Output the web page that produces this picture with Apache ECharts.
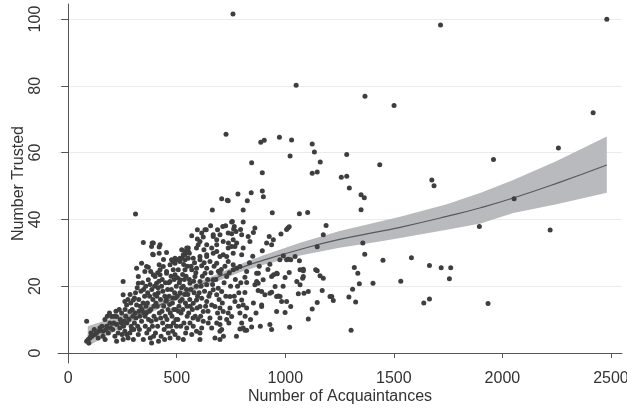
<!DOCTYPE html>
<html>
<head>
<meta charset="utf-8">
<script src="https://cdn.jsdelivr.net/npm/echarts@6/dist/echarts.min.js"></script>
<style>
  html, body { margin: 0; padding: 0; background: #fff; }
  #main { width: 627px; height: 408px; }
</style>
</head>
<body>
<div id="main"></div>
<script>
// tick labels
var xTicks = [0, 500, 1000, 1500, 2000, 2500];
var yTicks = [0, 20, 40, 60, 80, 100];

// fitted curve and its confidence band
var fitX  = [90, 200, 300, 423, 500, 607, 791, 900, 1068, 1250, 1436, 1529, 1744, 1900, 2050, 2250, 2481];
var fitY  = [5.0, 8.2, 11.2, 14.4, 16.8, 20.3, 25.4, 27.8, 31.0, 34.0, 36.4, 37.6, 40.9, 43.5, 46.4, 50.8, 56.3];
var fitLo = [2.0, 6.0, 9.6, 13.4, 15.9, 19.3, 24.2, 26.4, 29.2, 31.5, 33.4, 34.4, 36.9, 38.8, 41.9, 44.5, 48.0];
var fitHi = [8.0, 10.3, 12.8, 15.5, 17.8, 21.4, 26.6, 29.3, 33.0, 36.5, 39.4, 40.8, 44.5, 48.0, 51.8, 57.5, 64.8];

// [acquaintances, trusted]
var points = [
  [85,9.5],[85,3.5],[92,4],[100,4.5],[95,3],[110,5],[123,5.5],[138,4.5],[146,7.5],[120,7],[130,6],[140,6.5],[105,6],
  [161,6.5],[177,8],[192,9],[169,10],[200,10.9],[155,8],[185,6],[170,4],[195,7.5],[160,5],[180,11],[190,12],[175,7],
  [223,3.5],[223,8.5],[238,7.5],[223,10.9],[246,12],[210,9],[230,6],[215,5],[240,10],[205,7],[235,13],[245,9],[220,12.5],[212,11],[248,5.5],
  [253,4],[276,4.5],[284,6],[261,6.5],[253,17.4],[261,15.4],[269,14.4],[284,12.4],[253,21.4],[270,9],[290,8],[265,11],[280,10],[295,13],[258,9.5],[275,16],[288,15],[298,11],[262,13],[292,7],[270,5.5],[285,17.5],[255,8],
  [300,4],[323,5.5],[346,4],[300,15.9],[315,14.4],[307,12],[323,20.9],[315,25.4],[323,22.9],[338,26.9],[310,41.6],[305,9],[320,8],[330,11],[340,13],[310,18],[325,16],[335,18.5],[345,15],[312,10.5],[328,7],[338,9.5],[348,12],[302,7],[318,19.5],[342,21],[332,14],[347,19],[305,16.5],[327,12.5],
  [384,3],[353,24.4],[369,21.9],[369,25.7],[392,23.4],[380,24.4],[392,32.9],[387,32.9],[389,29.6],[384,31.9],[392,29.4],[361,25.9],[346,33.1],[355,8],[360,12],[365,15],[370,10],[375,17],[380,13],[385,19],[390,16],[395,11],[398,20],[352,17],[357,20],[362,6],[372,7],[378,4.5],[388,8],[395,14],[358,14],[366,18],[374,12.5],[383,9.5],[393,5],[399,17.5],[354,11],[377,20.5],
  [407,20.9],[400,22.9],[423,23.4],[423,24.9],[438,25.9],[419,29.9],[419,31.7],[423,32.4],[419,26.4],[405,10],[410,14],[415,18],[420,12],[425,16],[430,20],[435,9],[440,14],[445,17],[448,21],[402,6],[412,8],[428,5],[442,7],[404,15],[414,19.5],[432,12.5],[447,11],[408,17],[418,21.5],[426,10.5],[436,18.5],[444,4],[450,15.5],[416,3.5],[433,22],[439,28],[412,24],
  [453,30.1],[453,23.9],[469,26.4],[492,26.9],[484,24.9],[499,27.9],[492,28.4],[484,27.4],[476,27.9],[469,21.4],[492,23.4],[453,24.4],[492,5.5],[469,4.5],[461,6],[455,10],[460,13],[465,17],[470,12],[475,19],[480,15],[485,9],[490,18],[495,13],[498,20],[458,19],[463,21],[472,8],[478,11],[483,16.5],[488,22],[496,10],[452,16],[467,14.5],[474,23],[486,13],[494,16.5],[457,8],[481,6.5],[499,8],
  [507,4.5],[530,4],[546,7.5],[515,28.4],[538,29.4],[523,30.9],[538,30.4],[523,28.4],[507,27.9],[538,27.9],[515,27.4],[530,29.4],[507,24.9],[538,24.9],[515,21.9],[546,31.4],[505,10],[510,14],[515,18],[520,12],[525,16],[530,20],[535,22],[540,15],[545,19],[548,11],[502,17],[512,21],[518,8],[528,13],[533,9],[543,23],[508,12.5],[522,19.5],[537,17.5],[547,14],[503,22.5],[527,23.5],[541,6],[516,15.5],[549,26],[532,26.5],
  [553,30.4],[553,31.4],[558,29.9],[553,28.4],[569,35.1],[595,36.9],[595,34.1],[599,32.4],[576,28.4],[561,20.9],[584,22.9],[569,24.9],[591,25.4],[576,14.9],[591,15.9],[591,6.5],[576,8],[561,9],[569,5.5],[555,12],[560,16],[565,19],[572,13],[580,18],[585,11],[590,20],[596,17],[558,22],[566,26],[582,27],[588,24],[598,10],[562,14],[578,21.5],[594,13.5],[551,17.5],[575,10.5],[591,31.4],
  [607,33.4],[622,34.7],[607,28.9],[625,30.9],[607,27.9],[638,29.4],[638,32.4],[630,23.9],[638,20.4],[607,21.4],[615,26.1],[638,25.4],[638,15.4],[607,13.9],[622,12.4],[615,16.4],[622,9.5],[615,7.5],[607,6],[607,4],[645,9],[638,28.9],[603,18],[612,20],[618,23],[628,18.5],[633,14],[642,22],[648,17],[610,11],[626,27],[644,12.5],[636,36.9],[630,36.9],[615,35.9],
  [653,17.9],[668,18.9],[691,19.4],[684,17.4],[661,14.4],[676,13.9],[699,13.5],[699,10.5],[684,9],[699,8.5],[699,6.5],[653,10.5],[661,7.5],[676,4.5],[699,4],[653,27.4],[684,26.9],[656,38.1],[668,34.9],[699,35.4],[684,32.4],[661,31.4],[684,30.4],[668,29.9],[699,28.9],[699,23.9],[668,21.9],[688,36.9],[668,35.4],[684,33.9],[664,42.8],[658,24],[672,26],[680,22],[692,24.5],[695,16],[665,20.5],[688,12],
  [707,18.4],[714,12.4],[737,12],[730,10],[707,7],[745,16.9],[714,33.4],[714,29.4],[737,35.9],[737,31.4],[737,27.4],[730,28.9],[730,22.9],[738,32.9],[725,38.1],[712,37.9],[707,46.2],[733,45.7],[727,65.5],[737,45.6],[705,25],[718,21],[722,26],[742,24],[748,20],[710,15],[726,17],[740,9],[715,5],[745,13.5],
  [753,10.9],[768,15.4],[753,39.2],[762,37.1],[753,35.7],[756,39.4],[765,37.9],[773,36.4],[760,33.9],[768,31.9],[776,32.9],[753,31.9],[760,26.4],[776,25.4],[760,29.9],[760,24.9],[791,25.9],[782,47.6],[759,101.5],[794,37],[799,35.4],[799,29.4],[791,12],[799,15.9],[791,7.2],[799,9],[780,20],[770,22],[786,18],[795,21],[765,17],[775,5],[785,14],
  [806,42.8],[806,39.2],[806,31.4],[806,14.4],[806,7.5],[814,6.8],[822,6.8],[845,7.8],[814,22.7],[822,21.1],[814,18.1],[822,13.5],[853,15],[868,23.9],[860,20.4],[875,20.9],[898,21.9],[875,18.7],[891,14.4],[891,13.9],[822,24.4],[876,23.9],[868,21.4],[891,18.4],[825,45.6],[843,48],[845,57],[829,34.9],[837,33.4],[860,37.4],[853,36.1],[887,63.1],[894,54],[894,48.5],[899,46.8],[894,30.6],[835,27],[850,29],[880,26],[815,11],[840,10],[865,12],[885,8],
  [903,63.7],[973,64.6],[940,42],[914,32.9],[937,32.4],[926,34.9],[945,33.9],[980,35.6],[929,26.6],[975,27.9],[960,23.9],[937,22.9],[929,17.9],[960,16.9],[946,23.4],[963,23.7],[953,19.9],[906,17.4],[937,18.2],[968,17.1],[983,15.4],[960,12.4],[999,12.1],[929,8.5],[937,7],[976,16.9],[991,29.1],[999,22.6],[920,25],[990,20],
  [1029,63.8],[1022,59],[1050,80.2],[1065,41.7],[1012,37.4],[1018,37.8],[1006,37],[1014,28.1],[1025,27.9],[1006,27.9],[1045,28.9],[1065,27.6],[1018,24.1],[1083,25.1],[1080,22.4],[1068,24.9],[1083,22.9],[1053,21.4],[1068,20.4],[1060,17.7],[1086,17.9],[1006,15.4],[1025,13.9],[1020,7.7],[1083,24.6],
  [1124,62.6],[1134,60.2],[1161,57.2],[1124,53.8],[1147,54.2],[1103,42.1],[1188,38.2],[1175,35.4],[1147,31.8],[1140,24.9],[1160,23.1],[1175,22.4],[1170,18.7],[1106,18.4],[1147,15.1],[1124,13.2],[1106,10.2],[1147,24.6],
  [1214,16.9],[1206,16.9],[1221,15.7],[1283,59.4],[1258,52.6],[1283,52.9],[1295,49.4],[1349,47.4],[1364,46.5],[1349,42.9],[1357,32.9],[1366,29.6],[1318,25.6],[1334,23.9],[1341,20.7],[1310,19.1],[1293,16.8],[1324,15.3],[1303,6.8],[1404,20.9],[1435,56.4],[1450,27.8],[1367,76.9],[1501,74.1],
  [1532,21.5],[1581,28.5],[1664,26.2],[1718,25.5],[1762,25.5],[1756,22.2],[1664,16.2],[1638,15],[1675,51.8],[1685,50.1],[1715,98.2],[1894,37.9],[1934,14.8],[1959,57.9],[2054,46.2],[2220,36.8],[2258,61.4],[2418,71.9],[2481,99.9]
];

var chart = echarts.init(document.getElementById('main'));
var txt = { color: '#333', fontFamily: 'Liberation Sans, Arial, sans-serif', fontSize: 16 };
var plain = function (v) { return String(v); };

chart.setOption({
  animation: false,
  grid: { left: 58, right: 5, top: 4, bottom: 45, outerBoundsMode: 'none', containLabel: false },
  xAxis: {
    type: 'value', min: -47, max: 2551,
    name: 'Number of Acquaintances', nameLocation: 'middle', nameGap: 26,
    nameMoveOverlap: false,
    nameTextStyle: txt,
    axisLine: { show: true, lineStyle: { color: '#555', width: 1 } },
    axisTick: { show: true, length: 5, customValues: xTicks, lineStyle: { color: '#555' } },
    axisLabel: Object.assign({ customValues: xTicks, margin: 8, formatter: plain }, txt),
    splitLine: { show: false }
  },
  yAxis: {
    type: 'value', min: -3, max: 104.5,
    name: 'Number Trusted', nameLocation: 'middle', nameGap: 31,
    nameMoveOverlap: false,
    nameTextStyle: txt,
    axisLine: { show: true, lineStyle: { color: '#555', width: 1 } },
    axisTick: { show: true, length: 7, customValues: yTicks, lineStyle: { color: '#555' } },
    axisLabel: Object.assign({ customValues: yTicks, rotate: 90, margin: 14, formatter: plain }, txt),
    splitLine: { show: false }
  },
  series: [
    {
      type: 'custom', z: 1, silent: true,
      data: fitX.map(function (x, i) { return [x, fitLo[i], fitHi[i]]; }),
      renderItem: function (params, api) {
        if (params.dataIndex !== 0) return;
        var pts = [];
        for (var i = 0; i < fitX.length; i++) pts.push(api.coord([fitX[i], fitHi[i]]));
        for (var j = fitX.length - 1; j >= 0; j--) pts.push(api.coord([fitX[j], fitLo[j]]));
        return { type: 'polygon', shape: { points: pts }, style: { fill: '#b9babd' } };
      },
      markLine: {
        silent: true, symbol: 'none', z: 0,
        label: { show: false },
        lineStyle: { color: '#ebebeb', width: 1, type: 'solid' },
        data: yTicks.map(function (v) { return { yAxis: v }; })
      }
    },
    {
      type: 'line', z: 2, silent: true, smooth: true, symbol: 'none',
      data: fitX.map(function (x, i) { return [x, fitY[i]]; }),
      lineStyle: { color: '#58595b', width: 1.2 }
    },
    {
      type: 'scatter', z: 3, symbolSize: 5,
      data: points,
      itemStyle: { color: '#3e3e3e', opacity: 1 }
    }
  ]
});
</script>
</body>
</html>
